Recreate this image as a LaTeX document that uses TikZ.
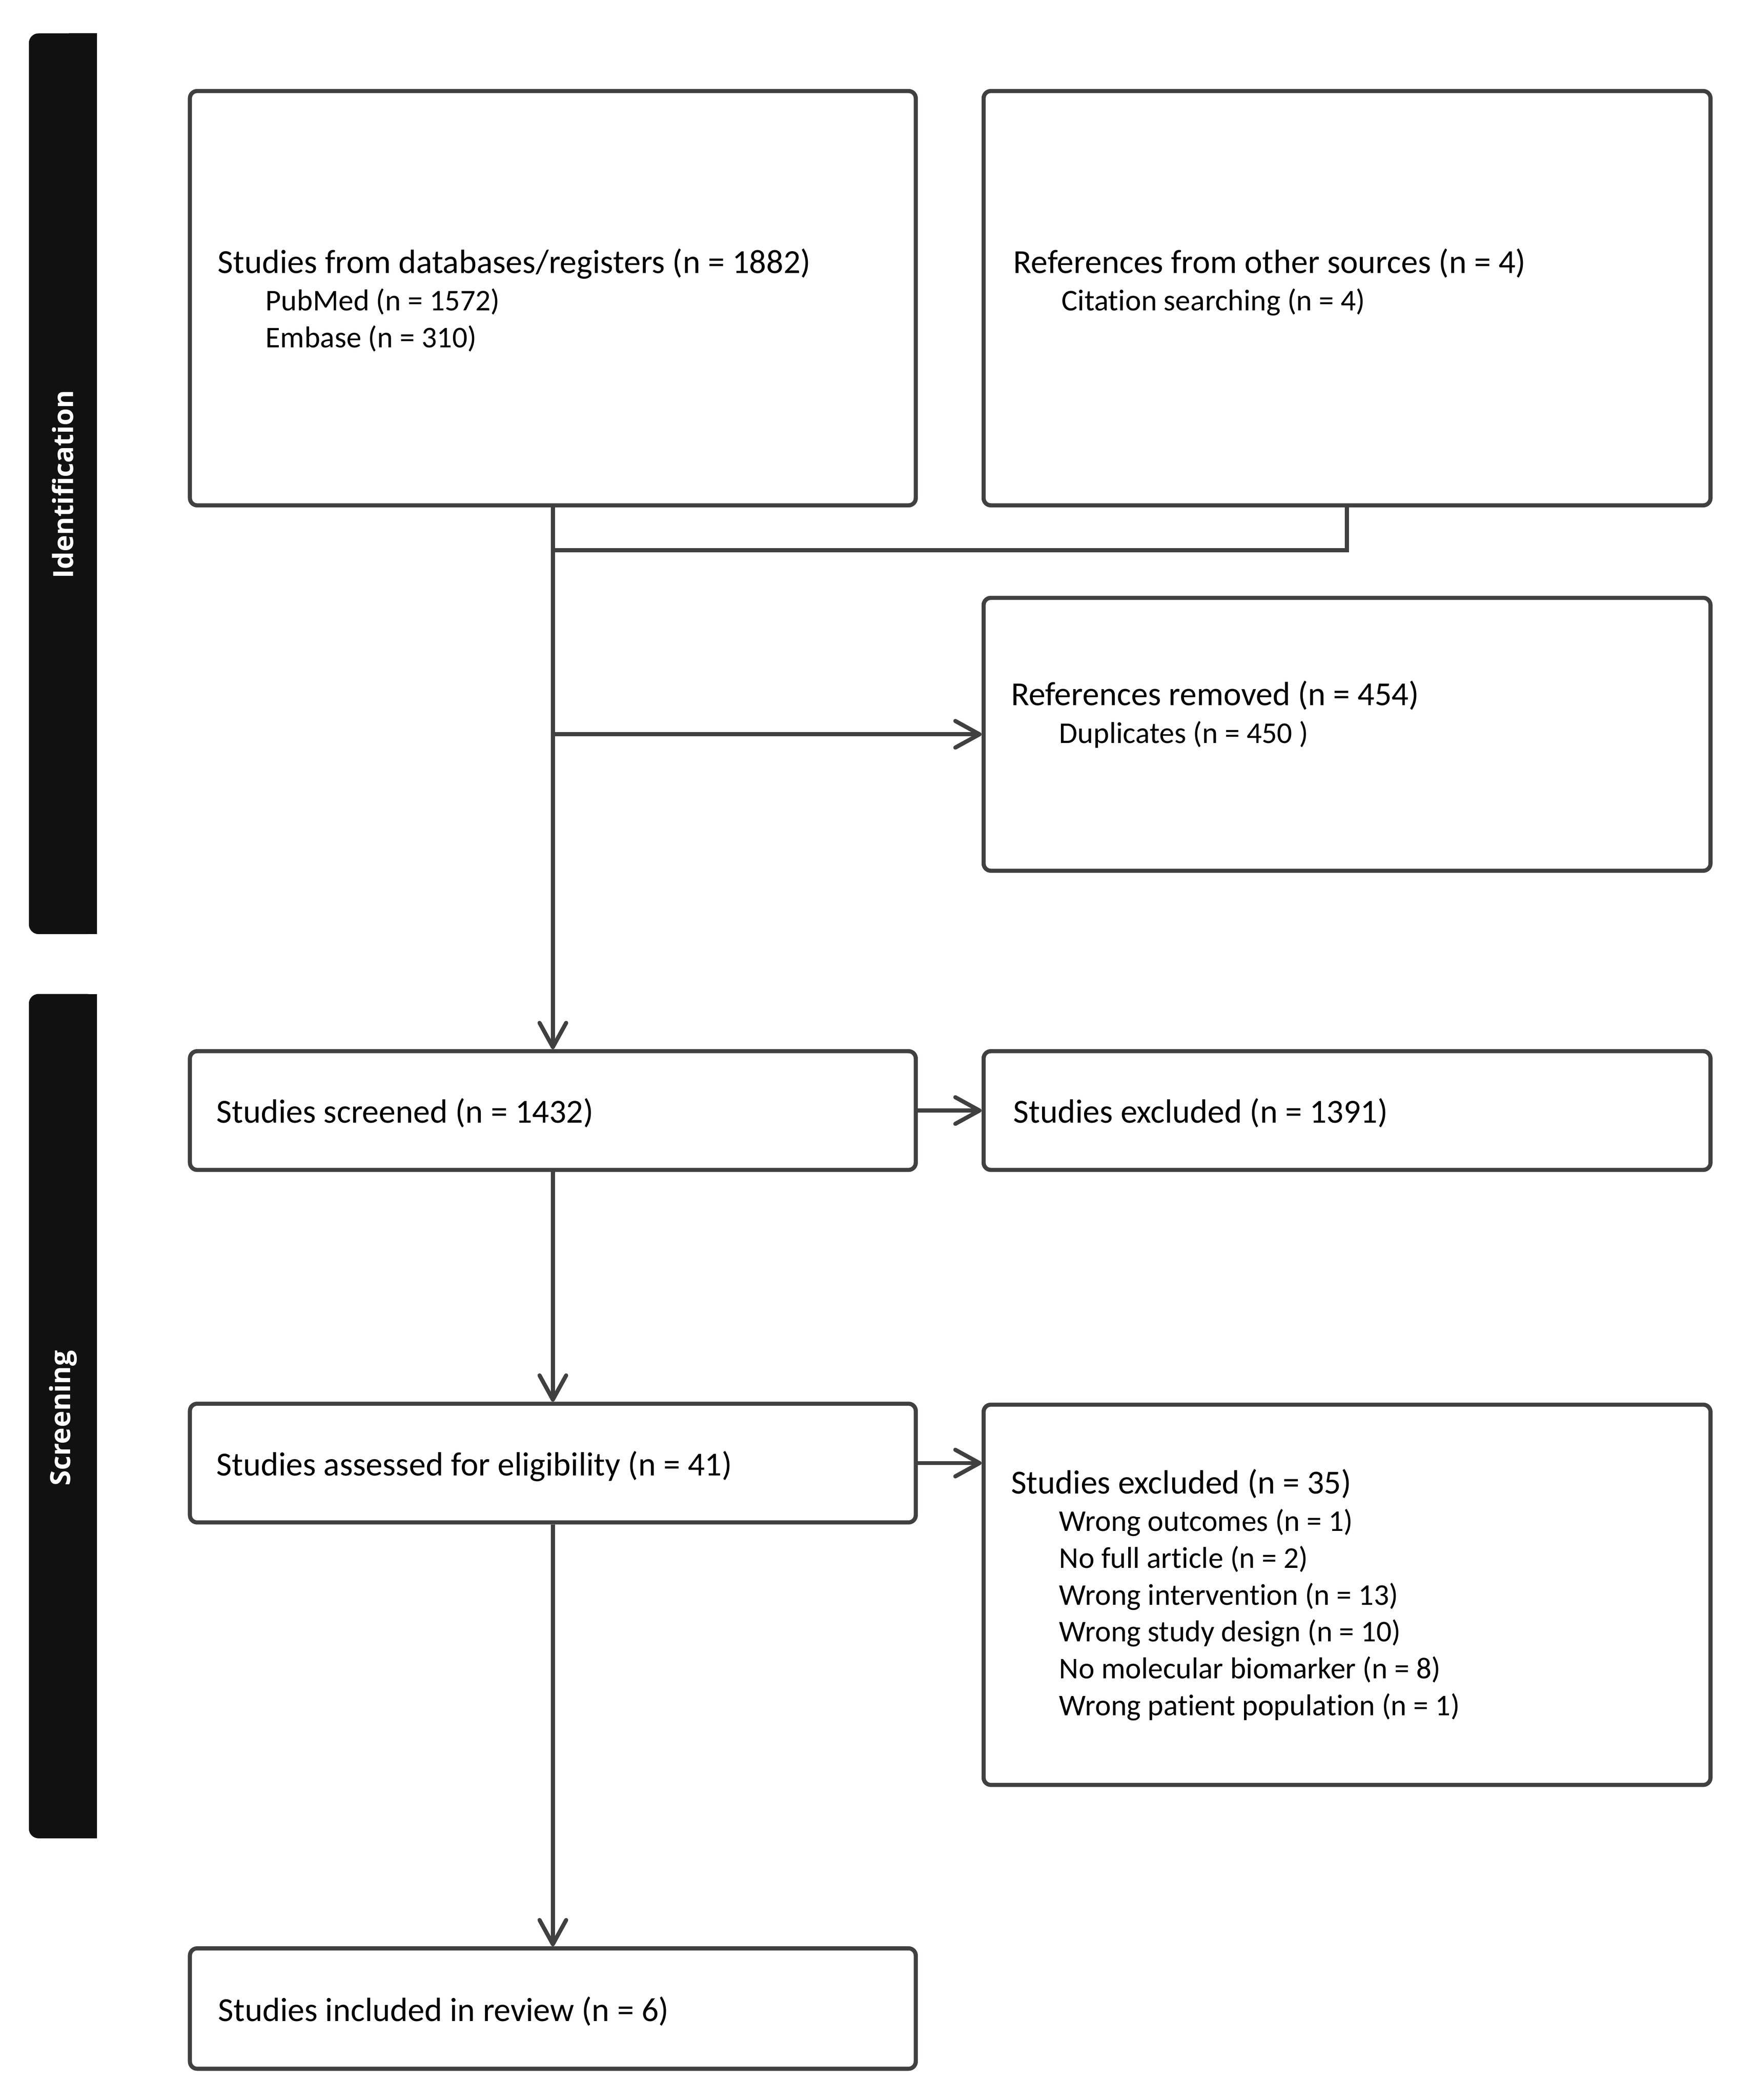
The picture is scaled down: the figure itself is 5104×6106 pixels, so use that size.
\documentclass[tikz,border=0pt]{standalone}
\usepackage{fontspec}
\setmainfont{Carlito}[Ligatures=NoCommon]
\newfontfamily\labfont{Open Sans}
\usetikzlibrary{arrows.meta}
\definecolor{ln}{HTML}{404040}
\definecolor{barc}{HTML}{111111}
\begin{document}
\begin{tikzpicture}[x=0.01cm,y=-0.01cm,
  box/.style={draw=ln, line width=3.4pt, rounded corners=6pt, inner sep=0pt, fill=white},
  maintxt/.style={anchor=mid west, inner sep=0pt, font=\fontsize{27.8}{30}\selectfont},
  subtxt/.style={anchor=mid west, inner sep=0pt, font=\fontsize{24.9}{28}\selectfont},
  conn/.style={draw=ln, line width=3.4pt},
  arr/.style={conn, -{Straight Barb[length=20pt,width=22pt,round]}},
  lab/.style={rotate=90, text=white, inner sep=0pt, font=\labfont\bfseries\fontsize{23}{27}\selectfont}
]
\useasboundingbox (0,0) rectangle (5104,6106);

% phase bars
\fill[barc, rounded corners=8pt] (84,97) rectangle (282,2716);
\fill[barc] (200,97) rectangle (282,2716);
\node[lab] (lid) at (183,1408) {Identification};
\fill[barc, rounded corners=8pt] (84,2890) rectangle (282,5345);
\fill[barc] (200,2890) rectangle (282,5345);
\node[lab] (lsc) at (183,4123) {Screening};

% boxes
\node[box, minimum width=21.1cm, minimum height=12.04cm] (b1) at (1608,867) {};
\node[box, minimum width=21.13cm, minimum height=12.04cm] (b2) at (3918,867) {};
\node[box, minimum width=21.13cm, minimum height=7.93cm] (b3) at (3918,2135) {};
\node[box, minimum width=21.1cm, minimum height=3.45cm] (b4) at (1608,3229) {};
\node[box, minimum width=21.13cm, minimum height=3.45cm] (b5) at (3918,3229) {};
\node[box, minimum width=21.1cm, minimum height=3.45cm] (b6) at (1608,4254) {};
\node[box, minimum width=21.13cm, minimum height=11.05cm] (b7) at (3918,4637) {};
\node[box, minimum width=21.1cm, minimum height=3.5cm] (b8) at (1608,5840) {};

% texts
\node[maintxt] (t1) at (633,786) {Studies from databases/registers (n = 1882)};
\node[subtxt] (t1a) at (772,895) {PubMed (n = 1572)};
\node[subtxt] (t1b) at (772,1002) {Embase (n = 310)};

\node[maintxt] (t2) at (2947,786) {References from other sources (n = 4)};
\node[subtxt] (t2a) at (3087,895) {Citation searching (n = 4)};

\node[maintxt] (t3) at (2940,2043) {References removed (n = 454)};
\node[subtxt] (t3a) at (3080,2152) {Duplicates (n = 450 )};

\node[maintxt] (t4) at (629,3256) {Studies screened (n = 1432)};
\node[maintxt] (t5) at (2947,3256) {Studies excluded (n = 1391)};

\node[maintxt] (t6) at (629,4282) {Studies assessed for eligibility (n = 41)};

\node[maintxt] (t7) at (2940,4335) {Studies excluded (n = 35)};
\node[subtxt] (t7a) at (3080,4444) {Wrong outcomes (n = 1)};
\node[subtxt] (t7b) at (3080,4551) {No full article (n = 2)};
\node[subtxt] (t7c) at (3080,4658) {Wrong intervention (n = 13)};
\node[subtxt] (t7d) at (3080,4765) {Wrong study design (n = 10)};
\node[subtxt] (t7e) at (3080,4872) {No molecular biomarker (n = 8)};
\node[subtxt] (t7f) at (3080,4979) {Wrong patient population (n = 1)};

\node[maintxt] (t8) at (634,5868) {Studies included in review (n = 6)};

% connectors
\coordinate (mg) at (1608,1600);
\draw[conn] (b2.south) |- (mg);
\draw[arr] (b1.south) -- (b4.north);
\coordinate (br) at (b1.south |- b3.west);
\draw[arr] (br) -- (b3.west);
\draw[arr] (b4.east) -- (b5.west);
\draw[arr] (b4.south) -- (b6.north);
\draw[arr] (b6.east) -- (b6.east -| b7.west);
\draw[arr] (b6.south) -- (b8.north);
\end{tikzpicture}
\end{document}
